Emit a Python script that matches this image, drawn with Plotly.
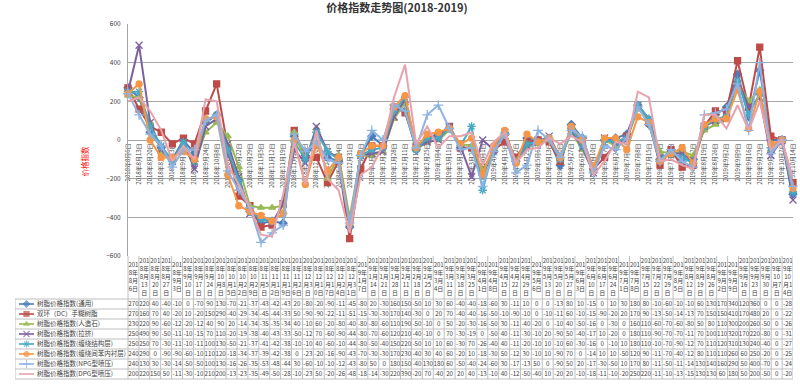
import plotly.graph_objects as go

# ---------------- data ----------------
dates = ["2018-08-06", "2018-08-13", "2018-08-20", "2018-08-27", "2018-09-03", "2018-09-10",
         "2018-09-17", "2018-09-24", "2018-10-08", "2018-10-15", "2018-10-22", "2018-10-29",
         "2018-11-05", "2018-11-12", "2018-11-19", "2018-11-26", "2018-12-03", "2018-12-10",
         "2018-12-17", "2018-12-24", "2018-12-31", "2019-01-07", "2019-01-14", "2019-01-21",
         "2019-01-28", "2019-02-11", "2019-02-18", "2019-02-25", "2019-03-04", "2019-03-11",
         "2019-03-18", "2019-03-25", "2019-04-01", "2019-04-08", "2019-04-15", "2019-04-22",
         "2019-04-29", "2019-05-06", "2019-05-13", "2019-05-20", "2019-05-27", "2019-06-03",
         "2019-06-10", "2019-06-17", "2019-06-24", "2019-07-01", "2019-07-08", "2019-07-15",
         "2019-07-22", "2019-07-29", "2019-08-05", "2019-08-12", "2019-08-19", "2019-08-26",
         "2019-09-02", "2019-09-09", "2019-09-16", "2019-09-23", "2019-09-30", "2019-10-07",
         "2019-10-14"]

series_names = ["树脂价格指数(通用)", "双环（DC）手糊树脂", "树脂价格指数(人造石)",
                "树脂价格指数(拉挤)", "树脂价格指数(缠绕结构层)", "树脂价格指数(缠绕间苯内衬层)",
                "树脂价格指数(NPG型喷压)", "树脂价格指数(DPG型喷压)"]

s_general = [270, 220, 40, -40, -100, 0, -70, 90, 130, -70, -210, -370, -430,
             -420, -430, 20, -80, -20, -90, -110, -450, -80, 20, -30, 160, 150,
             -50, 10, 30, 60, -40, -40, -180, -60, 30, -110, 10,
             0, 0, -130, 80, 10, -150, 0, 10, 30, 180, 80, -100, -60, -100, -100, 60, 130,
             170, 340, 120, 360, 0, 0, -280]
s_dc = [270, 160, 70, 40, -20, 10, -20, 150, 290, -40, -290, -340, -450,
        -440, -330, 50, -90, -90, -220, -110, -510, -150, -30, -30, 170, 140,
        -30, 0, 20, 70, -40, -40, -160, -50, -10, -90, -10,
        0, -10, -110, 60, -10, -150, -90, -20, 20, 170, 90, -130, -50, -140, -130, 70, 150,
        150, 410, 170, 480, 20, 0, -220]
s_stone = [230, 220, 90, -60, -120, -20, -120, 40, 90, 20, -140, -340, -350,
           -350, -340, 40, -100, 60, -200, -80, -400, -80, -80, -60, 110, 190,
           -50, -10, 0, 50, -20, -30, -160, -50, 30, -110, -40,
           -20, 0, -100, 40, -50, -160, 0, -30, 0, 160, 110, -60, -70, -60, -80, 50, 80,
           110, 300, 200, 260, -50, 0, -260]
s_pultr = [250, 490, 90, -50, -110, -10, -150, 70, 110, -20, -190, -380, -400,
           -430, -330, -50, -120, 70, -60, -90, -440, -80, -70, -60, 120, 210,
           -40, -10, 0, 70, -30, -190, 0, -50, 40, -110, -30,
           -10, 20, -90, 50, -40, -170, 10, -20, 0, 180, 110, -90, -70, -70, -110, 70, 100,
           110, 320, 170, 220, -80, 0, -310]
s_wind = [250, 250, 70, -30, -110, -10, -110, 100, 130, -50, -210, -370, -410,
          -420, -380, -10, -100, 40, -60, -100, -440, -80, -50, -40, 150, 220,
          -50, 10, 10, 60, -30, 70, -260, -40, 40, -110, -20,
          -10, 10, -100, 60, -30, -160, 0, -10, 10, 180, 110, -100, -70, -90, -120, 70, 110,
          120, 310, 130, 240, -40, 0, -270]
s_lining = [240, 290, 0, -90, -90, -60, -100, 110, 120, -180, -340, -370, -390,
            -420, -380, 0, -230, -20, -160, -90, -430, -70, -30, -30, 170, 230,
            -40, 30, 40, 60, -20, 10, -180, -30, 50, -120, 30,
            -10, 10, -90, 70, 0, -140, 10, 10, -50, 120, 90, -110, -70, -40, -120, 80, 110,
            110, 260, 60, 250, -20, 0, -250]
s_npg = [240, 130, 30, -30, -140, -50, -50, 100, 130, -160, -260, -350, -530,
         -480, -440, 30, -60, -10, -100, -120, -430, -80, 50, 0, 180, 150,
         -40, 130, 180, 60, -50, -40, -240, -60, 30, -170, -130,
         50, 0, -90, 50, 20, -170, -30, -50, 10, 170, 80, -110, -50, -110, -140, 130, 140,
         160, 290, 50, 400, -70, 0, -240]
s_dpg = [200, 220, 150, 50, -110, -30, -100, 210, 200, -130, -230, -350, -490,
         -500, -280, -10, -230, 50, -200, -260, -480, -180, -140, -30, 220, 390,
         -20, 70, -40, 20, 20, 40, -130, -10, 40, -120, -50,
         -40, 10, -20, 20, -10, -180, -110, -10, -20, 250, 220, -110, -100, -130, -150, 130, 130,
         60, 180, 50, 200, -50, 0, -200]

y_ticks = [-600, -400, -200, 0, 200, 400, 600]
title_text = "价格指数走势图(2018-2019)"
y_title = "价格指数"

all_series = [s_general, s_dc, s_stone, s_pultr, s_wind, s_lining, s_npg, s_dpg]

# ---------------- styles ----------------
colors = ["#4A7EBB", "#BE4B48", "#98B954", "#7D60A0", "#46AAC5", "#F79646", "#8DB3E2", "#E6A3AE"]
symbols = ["diamond", "square", "triangle-up", "x-thin-open", "asterisk-open", "circle",
           "cross-thin-open", None]
msizes = [6, 6, 6, 7, 7, 6, 7, 0]
FONT = "Noto Sans CJK SC"

W, H = 800, 384
ML, MR, MT, MB = 15, 7, 24, 4
PX_L, PX_R = ML, W - MR          # paper x in px
PX_T, PX_B = MT, H - MB          # paper y in px
PLOT_L, PLOT_B = 128, 256
paper_w = PX_R - PX_L
paper_h = PX_B - PX_T
x_dom0 = (PLOT_L - PX_L) / paper_w
y_dom0 = (PX_B - PLOT_B) / paper_h
zero_pos = (PX_B - 140) / paper_h

n = len(dates)
xs = list(range(n))
labels = []
for d in dates:
    yy, mm, dd = d.split("-")
    labels.append(f"{int(yy)}年{int(mm)}月{int(dd)}日")


def wrap_label(s, cap=3.0):
    lines, cur, w = [], "", 0.0
    for ch in s:
        cw = 1.0 if ch.isdigit() else 1.8
        if cur and w + cw > cap + 1e-9:
            lines.append(cur)
            cur, w = ch, cw
        else:
            cur += ch
            w += cw
    lines.append(cur)
    return "<br>".join(lines)


fig = go.Figure()

# chart lines
for i, vals in enumerate(all_series):
    mk = dict(color=colors[i], size=msizes[i], line=dict(color=colors[i], width=1.3))
    if symbols[i]:
        mk["symbol"] = symbols[i]
    fig.add_trace(go.Scatter(
        x=xs, y=vals, mode="lines+markers" if symbols[i] else "lines",
        name=series_names[i], line=dict(color=colors[i], width=2),
        marker=mk, cliponaxis=False, showlegend=False, hoverinfo="x+y+name"))

# ---------------- data table (in px coordinates on x2/y2) ----------------
TBL_TOP = PLOT_B
HDR_BOT = 299
ROW_H = 10
TBL_BOT = HDR_BOT + ROW_H * len(all_series)
NAME_L = 15
cw = (PX_R - PLOT_L) / n

gx, gy = [], []
for k in range(n + 1):
    xx = PLOT_L + k * cw
    gx += [xx, xx, None]
    gy += [TBL_TOP, TBL_BOT, None]
for r in range(len(all_series) + 1):
    yy = HDR_BOT + r * ROW_H
    gx += [NAME_L, PX_R, None]
    gy += [yy, yy, None]
gx += [NAME_L, NAME_L, None]
gy += [HDR_BOT, TBL_BOT, None]
fig.add_trace(go.Scatter(x=gx, y=gy, mode="lines", line=dict(color="#BFBFBF", width=1),
                         xaxis="x2", yaxis="y2", hoverinfo="skip", showlegend=False))

# header
fig.add_trace(go.Scatter(
    x=[PLOT_L + (k + 0.5) * cw for k in range(n)], y=[(TBL_TOP + HDR_BOT) / 2] * n,
    text=[wrap_label(l) for l in labels], mode="text", textposition="middle center",
    textfont=dict(size=6, color="#404040", family=FONT),
    xaxis="x2", yaxis="y2", hoverinfo="skip", showlegend=False))

# cells
cx, cy, ct = [], [], []
for r, vals in enumerate(all_series):
    for k, v in enumerate(vals):
        cx.append(PLOT_L + (k + 0.5) * cw)
        cy.append(HDR_BOT + (r + 0.5) * ROW_H)
        ct.append(str(v)[:3])
fig.add_trace(go.Scatter(
    x=cx, y=cy, text=ct, mode="text", textposition="middle center",
    textfont=dict(size=6.2, color="#404040", family=FONT),
    xaxis="x2", yaxis="y2", hoverinfo="skip", showlegend=False))

# legend keys + names
for r in range(len(all_series)):
    yc = HDR_BOT + (r + 0.5) * ROW_H
    key_size = max(msizes[r] - 1, 0)
    mk = dict(color=colors[r], size=[0, key_size, 0], line=dict(color=colors[r], width=1.2))
    if symbols[r]:
        mk["symbol"] = symbols[r]
    fig.add_trace(go.Scatter(
        x=[19, 26.5, 34], y=[yc] * 3, mode="lines+markers" if symbols[r] else "lines",
        line=dict(color=colors[r], width=1.6), marker=mk,
        xaxis="x2", yaxis="y2", hoverinfo="skip", showlegend=False))
fig.add_trace(go.Scatter(
    x=[37] * len(series_names), y=[HDR_BOT + (r + 0.5) * ROW_H for r in range(len(series_names))],
    text=series_names, mode="text", textposition="middle right",
    textfont=dict(size=6.5, color="#404040", family=FONT),
    xaxis="x2", yaxis="y2", hoverinfo="skip", showlegend=False))

fig.update_layout(
    width=W, height=H,
    margin=dict(l=ML, r=MR, t=MT, b=MB),
    paper_bgcolor="white", plot_bgcolor="white",
    font=dict(family=FONT, color="#404040"),
    title=dict(text=f"<b>{title_text}</b>", x=397 / W, xref="container", xanchor="center",
               y=1 - 8 / H, yref="container", yanchor="middle",
               font=dict(size=11, color="#333333", family=FONT)),
    xaxis=dict(domain=[x_dom0, 1], range=[0, n - 1], tickmode="array", tickvals=xs,
               ticktext=labels, tickangle=-90, tickfont=dict(size=6, color="#404040"),
               anchor="free", position=zero_pos, showgrid=False, showline=True,
               linecolor="#A6A6A6", linewidth=1, ticks="", layer="below traces",
               zeroline=False, automargin=False),
    yaxis=dict(domain=[y_dom0, 1], range=[-600, 600], tickmode="array", tickvals=y_ticks,
               showgrid=True, gridcolor="#A6A6A6", gridwidth=1.3, zeroline=True,
               zerolinecolor="#A6A6A6", zerolinewidth=1.3, showline=True,
               linecolor="#A6A6A6", ticks="", tickfont=dict(size=6.5, color="#404040"),
               ticklabelstandoff=5, anchor="x", automargin=False),
    xaxis2=dict(domain=[0, 1], range=[PX_L, PX_R], anchor="y2", visible=False),
    yaxis2=dict(domain=[0, y_dom0], range=[PX_B, PLOT_B], anchor="x2", visible=False),
    annotations=[dict(text=y_title, x=(76 - PX_L) / paper_w, y=(PX_B - 161) / paper_h,
                      xref="paper", yref="paper", showarrow=False, textangle=-90,
                      font=dict(size=7.5, color="#FF0000", family=FONT))],
)

fig.write_html("out.html", config={"displayModeBar": False},
               post_script="document.body.style.margin='0px';document.body.style.overflow='hidden';")
